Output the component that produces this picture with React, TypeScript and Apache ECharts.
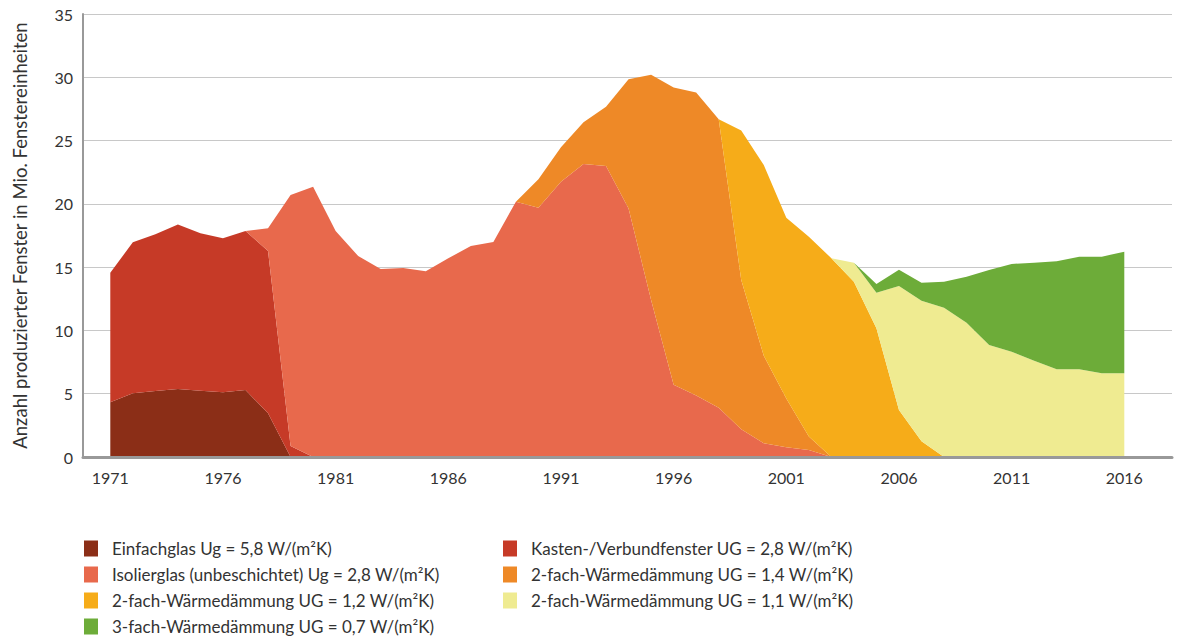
import React, { useEffect, useRef } from "react";
import * as echarts from "echarts";

const years = [
  "1971", "1972", "1973", "1974", "1975", "1976", "1977", "1978", "1979", "1980",
  "1981", "1982", "1983", "1984", "1985", "1986", "1987", "1988", "1989", "1990",
  "1991", "1992", "1993", "1994", "1995", "1996", "1997", "1998", "1999", "2000",
  "2001", "2002", "2003", "2004", "2005", "2006", "2007", "2008", "2009", "2010",
  "2011", "2012", "2013", "2014", "2015", "2016",
];

const seriesNames = [
  "Einfachglas Ug = 5,8 W/(m²K)",
  "Kasten-/Verbundfenster UG = 2,8 W/(m²K)",
  "Isolierglas (unbeschichtet) Ug = 2,8 W/(m²K)",
  "2-fach-Wärmedämmung UG = 1,4 W/(m²K)",
  "2-fach-Wärmedämmung UG = 1,2 W/(m²K)",
  "2-fach-Wärmedämmung UG = 1,1 W/(m²K)",
  "3-fach-Wärmedämmung UG = 0,7 W/(m²K)",
];

const seriesColors = ["#8b2e17", "#c63a27", "#e8694c", "#ee8927", "#f6ac19", "#efeb91", "#6dac39"];

const einfachglas = [
  4.32, 5.03, 5.21, 5.37, 5.24, 5.11, 5.29, 3.45, 0, 0,
  0, 0, 0, 0, 0, 0, 0, 0, 0, 0,
  0, 0, 0, 0, 0, 0, 0, 0, 0, 0,
  0, 0, 0, 0, 0, 0, 0, 0, 0, 0,
  0, 0, 0, 0, 0, 0,
];

const kasten = [
  10.24, 11.93, 12.38, 12.99, 12.43, 12.17, 12.57, 12.83, 0.87, 0,
  0, 0, 0, 0, 0, 0, 0, 0, 0, 0,
  0, 0, 0, 0, 0, 0, 0, 0, 0, 0,
  0, 0, 0, 0, 0, 0, 0, 0, 0, 0,
  0, 0, 0, 0, 0, 0,
];

const isolierglas = [
  0, 0, 0, 0, 0, 0, 0, 1.79, 19.83, 21.36,
  17.86, 15.88, 14.85, 14.93, 14.67, 15.7, 16.67, 16.99, 20.17, 19.7,
  21.75, 23.15, 22.99, 19.64, 12.4, 5.7, 4.85, 3.9, 2.19, 1.08,
  0.78, 0.55, 0, 0, 0, 0, 0, 0, 0, 0,
  0, 0, 0, 0, 0, 0,
];

const zweifach14 = [
  0, 0, 0, 0, 0, 0, 0, 0, 0, 0,
  0, 0, 0, 0, 0, 0, 0, 0, 0, 2.24,
  2.72, 3.29, 4.69, 10.2, 17.8, 23.5, 23.95, 22.78, 11.79, 6.92,
  3.85, 1.06, 0, 0, 0, 0, 0, 0, 0, 0,
  0, 0, 0, 0, 0, 0,
];

const zweifach12 = [
  0, 0, 0, 0, 0, 0, 0, 0, 0, 0,
  0, 0, 0, 0, 0, 0, 0, 0, 0, 0,
  0, 0, 0, 0, 0, 0, 0, 0, 11.82, 15.07,
  14.27, 15.8, 15.7, 13.85, 10.17, 3.71, 1.25, 0, 0, 0,
  0, 0, 0, 0, 0, 0,
];

const zweifach11 = [
  0, 0, 0, 0, 0, 0, 0, 0, 0, 0,
  0, 0, 0, 0, 0, 0, 0, 0, 0, 0,
  0, 0, 0, 0, 0, 0, 0, 0, 0, 0,
  0, 0, 0, 1.5, 2.81, 9.8, 11.09, 11.8, 10.61, 8.85,
  8.32, 7.61, 6.93, 6.93, 6.61, 6.61,
];

const dreifach07 = [
  0, 0, 0, 0, 0, 0, 0, 0, 0, 0,
  0, 0, 0, 0, 0, 0, 0, 0, 0, 0,
  0, 0, 0, 0, 0, 0, 0, 0, 0, 0,
  0, 0, 0, 0, 0.69, 1.29, 1.42, 2.05, 3.64, 5.92,
  6.93, 7.74, 8.53, 8.9, 9.22, 9.61,
];

const allValues = [einfachglas, kasten, isolierglas, zweifach14, zweifach12, zweifach11, dreifach07];

const FONT = "Lato, 'Noto Sans', sans-serif";

export default function App() {
  const ref = useRef<HTMLDivElement>(null);

  useEffect(() => {
    document.body.style.margin = "0";
    if (!ref.current) return;
    const chart = echarts.init(ref.current, undefined, { renderer: "svg" });

    const series = seriesNames.map((name, i) => ({
      name,
      type: "line",
      stack: "total",
      xAxisIndex: 1,
      yAxisIndex: 1,
      symbol: "none",
      showSymbol: false,
      lineStyle: { width: 0 },
      areaStyle: { color: seriesColors[i], opacity: 1 },
      itemStyle: { color: seriesColors[i] },
      data: allValues[i],
    }));

    const legendCommon = {
      orient: "vertical",
      top: 535,
      height: 125,
      itemWidth: 14,
      itemHeight: 16,
      itemGap: 9,
      icon: "rect",
      selectedMode: false,
      textStyle: { fontSize: 17, color: "#333", fontFamily: FONT, padding: [0, 0, 0, 9] },
    };

    chart.setOption({
      animation: false,
      textStyle: { fontFamily: FONT },
      grid: [
        { left: 83, right: 10, top: 14, bottom: 179, containLabel: false },
        { left: 110.3, right: 57.7, top: 14, bottom: 179, containLabel: false },
      ],
      legend: [
        { ...legendCommon, left: 79, data: [seriesNames[0], seriesNames[2], seriesNames[4], seriesNames[6]] },
        { ...legendCommon, left: 498, data: [seriesNames[1], seriesNames[3], seriesNames[5]] },
      ],
      xAxis: [
        {
          gridIndex: 0,
          type: "value",
          min: 0,
          max: 1,
          z: 10,
          splitLine: { show: false },
          axisTick: { show: false },
          axisLabel: { show: false },
          axisLine: { show: true, lineStyle: { color: "#999", width: 3 } },
        },
        {
          gridIndex: 1,
          type: "category",
          data: years,
          boundaryGap: false,
          axisLine: { show: false },
          axisTick: { show: false },
          splitLine: { show: false },
          axisLabel: {
            interval: 4,
            color: "#333",
            fontSize: 16,
            margin: 12,
            fontFamily: FONT,
          },
        },
      ],
      yAxis: [
        {
          gridIndex: 0,
          type: "value",
          min: 0,
          max: 35,
          interval: 5,
          name: "Anzahl produzierter Fenster in Mio. Fenstereinheiten",
          nameLocation: "middle",
          nameGap: 54,
          nameTextStyle: { fontSize: 18.5, color: "#333", fontFamily: FONT },
          axisLine: { show: true, lineStyle: { color: "#999", width: 2 } },
          axisTick: { show: false },
          splitLine: { show: true, lineStyle: { color: "#c8c8c8", width: 1 } },
          axisLabel: { color: "#333", fontSize: 16, margin: 10, fontFamily: FONT },
        },
        {
          gridIndex: 1,
          type: "value",
          min: 0,
          max: 35,
          show: false,
        },
      ],
      series,
    });

    return () => chart.dispose();
  }, []);

  return <div ref={ref} style={{ width: 1182, height: 636 }} />;
}
